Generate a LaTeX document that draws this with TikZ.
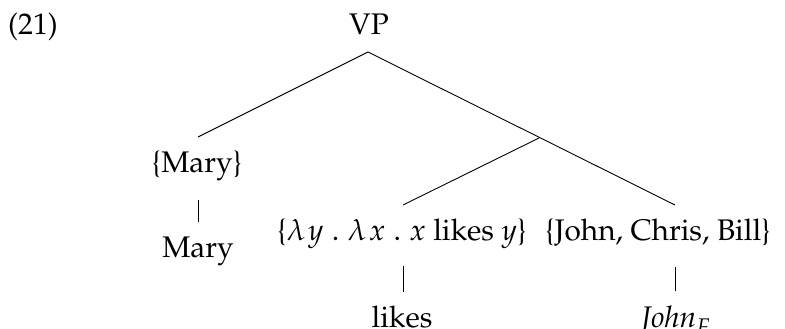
\documentclass[tikz,border=0pt]{standalone}
\usepackage[T1]{fontenc}
\usepackage{mathpazo}
\begin{document}
\begin{tikzpicture}[x=1pt,y=-1pt,
  lbl/.style={anchor=base,inner sep=0pt,font=\fontsize{29.8}{35}\selectfont},
  edge/.style={line width=0.9pt,black}]
\useasboundingbox (0,0) rectangle (785,329);
\node[lbl,anchor=base west] (num) at (8,35) {(21)};
\node[lbl] (vp) at (369,35) {VP};
\node[lbl] (smary) at (197,172) {\{Mary\}};
\node[lbl] (mary) at (198,257) {Mary};
\node[lbl] (slikes) at (402,240) {\{$\lambda\mkern1.5mu y\mathrel{.}\lambda\mkern1.5mu x\mathrel{.}x$ likes $y$\}};
\node[lbl] (sjohn) at (658,240) {\{John, Chris, Bill\}};
\node[lbl] (likes) at (402,327) {likes};
\node[lbl] (john) at (676,327) {$\mathit{John}_F$};
\coordinate (vpb) at (368,52);
\coordinate (smt) at (198,137);
\coordinate (brn) at (539,138);
\coordinate (slt) at (403,205);
\coordinate (sjt) at (675,205);
\coordinate (smb) at (198,200);
\coordinate (mt) at (198,222);
\coordinate (slb) at (403,266);
\coordinate (lt) at (403,292);
\coordinate (sjb) at (675,267);
\coordinate (jt) at (675,291);
\draw[edge] (smt) -- (vpb) -- (sjt);
\draw[edge] (brn) -- (slt);
\draw[edge] (smb) -- (mt);
\draw[edge] (slb) -- (lt);
\draw[edge] (sjb) -- (jt);
\end{tikzpicture}
\end{document}
